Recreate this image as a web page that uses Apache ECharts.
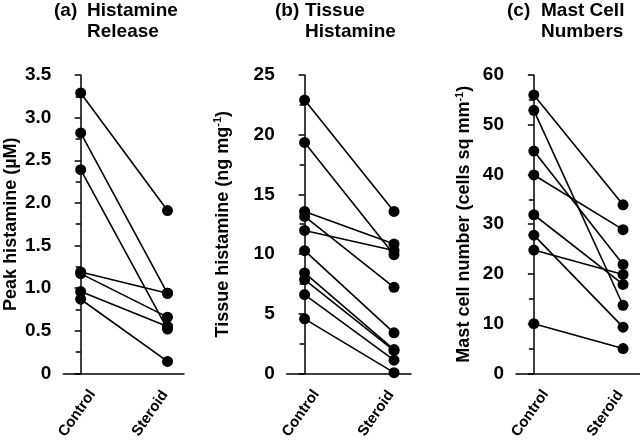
<!DOCTYPE html>
<html>
<head>
<meta charset="utf-8">
<script src="https://cdn.jsdelivr.net/npm/echarts@6/dist/echarts.min.js"></script>
<style>html,body{margin:0;padding:0;background:#fff}#c{width:640px;height:442px}</style>
</head>
<body>
<div id="c"></div>
<script>
// ---- data ----
const categories = ['Control', 'Steroid'];

// (a) Histamine release (µM)
const controlA = [3.29, 2.82, 2.39, 1.19, 1.17, 0.96, 0.87];
const steroidA = [1.91, 0.94, 0.52, 0.94, 0.66, 0.55, 0.14];
const yTicksA = ['0', '0.5', '1.0', '1.5', '2.0', '2.5', '3.0', '3.5'];

// (b) Tissue histamine (ng mg-1)
const controlB = [22.9, 19.35, 13.57, 13.15, 11.98, 10.28, 8.42, 7.86, 6.6, 4.57];
const steroidB = [13.57, 9.95, 10.84, 7.21, 10.3, 3.4, 2.0, 1.9, 1.11, 0.06];
const yTicksB = ['0', '5', '10', '15', '20', '25'];

// (c) Mast cell numbers (cells sq mm-1)
const controlC = [56, 52.9, 44.7, 39.9, 31.9, 27.8, 24.8, 10.0];
const steroidC = [33.9, 13.7, 21.9, 28.9, 17.9, 9.3, 19.9, 5.0];
const yTicksC = ['0', '10', '20', '30', '40', '50', '60'];

// ---- chart ----
const FONT = '"Liberation Sans", Arial, Helvetica, sans-serif';
const black = '#000';

const panels = [
  { ctrl: controlA, ster: steroidA, ticks: yTicksA, step: 0.5, left: 58.5, width: 125.5,
    name: 'Peak histamine (µM)', nameGap: 42 },
  { ctrl: controlB, ster: steroidB, ticks: yTicksB, step: 5, left: 286.7, width: 124.3,
    name: 'Tissue histamine (ng mg{sup|-1})', nameGap: 54 },
  { ctrl: controlC, ster: steroidC, ticks: yTicksC, step: 10, left: 516, width: 124,
    name: 'Mast cell number (cells sq mm{sup|-1})', nameGap: 42 }
];

const grids = [], xAxes = [], yAxes = [], series = [];
panels.forEach((p, k) => {
  grids.push({ left: p.left, top: 75, width: p.width, height: 299 });
  xAxes.push({
    gridIndex: k, type: 'value', min: -0.2, max: 1.19, offset: 8,
    axisLine: { show: true, lineStyle: { color: black, width: 1.5 } },
    axisTick: { show: false }, splitLine: { show: false },
    axisLabel: {
      customValues: [-0.04, 0.8], rotate: 55, align: 'center', verticalAlign: 'middle', margin: 32,
      fontFamily: FONT, fontWeight: 'bold', fontSize: 15, color: black,
      formatter: v => (v < 0.5 ? categories[0] : categories[1])
    }
  });
  yAxes.push({
    gridIndex: k, type: 'value', min: 0, max: p.step * (p.ticks.length - 1), interval: p.step,
    axisLine: { show: true, lineStyle: { color: black, width: 1.5 } },
    axisTick: { show: true, length: 6, lineStyle: { color: black, width: 1.5 } },
    minorTick: { show: true, splitNumber: 2, length: 5, lineStyle: { color: black, width: 1.5 } },
    splitLine: { show: false },
    axisLabel: {
      margin: 12, fontFamily: FONT, fontWeight: 'bold', fontSize: 19, color: black,
      formatter: v => p.ticks[Math.round(v / p.step)]
    },
    name: p.name, nameLocation: 'middle', nameGap: p.nameGap,
    nameTextStyle: {
      fontFamily: FONT, fontWeight: 'bold', fontSize: 18, color: black, lineHeight: 20,
      rich: { sup: { fontFamily: FONT, fontWeight: 'bold', fontSize: 11, color: black, verticalAlign: 'top', lineHeight: 20 } }
    }
  });
  p.ctrl.forEach((c, i) => {
    series.push({
      type: 'line', xAxisIndex: k, yAxisIndex: k,
      data: [[0, c], [1, p.ster[i]]],
      symbol: 'circle', symbolSize: 11, showSymbol: true,
      itemStyle: { color: black }, lineStyle: { color: black, width: 1.6 },
      animation: false, silent: true
    });
  });
});

const tStyle = { fontFamily: FONT, fontWeight: 'bold', fontSize: 19, color: black, lineHeight: 21 };
const titles = [
  { text: '(a)', left: 54, top: 0 }, { text: 'Histamine\nRelease', left: 87, top: 0 },
  { text: '(b)', left: 275, top: 0 }, { text: 'Tissue\nHistamine', left: 305, top: 0 },
  { text: '(c)', left: 507, top: 0 }, { text: 'Mast Cell\nNumbers', left: 541, top: 0 }
].map(t => Object.assign({ padding: 0, textStyle: tStyle }, t));

const chart = echarts.init(document.getElementById('c'), null, { renderer: 'canvas' });
chart.setOption({
  backgroundColor: '#fff', animation: false,
  title: titles, grid: grids, xAxis: xAxes, yAxis: yAxes, series: series
});
</script>
</body>
</html>
